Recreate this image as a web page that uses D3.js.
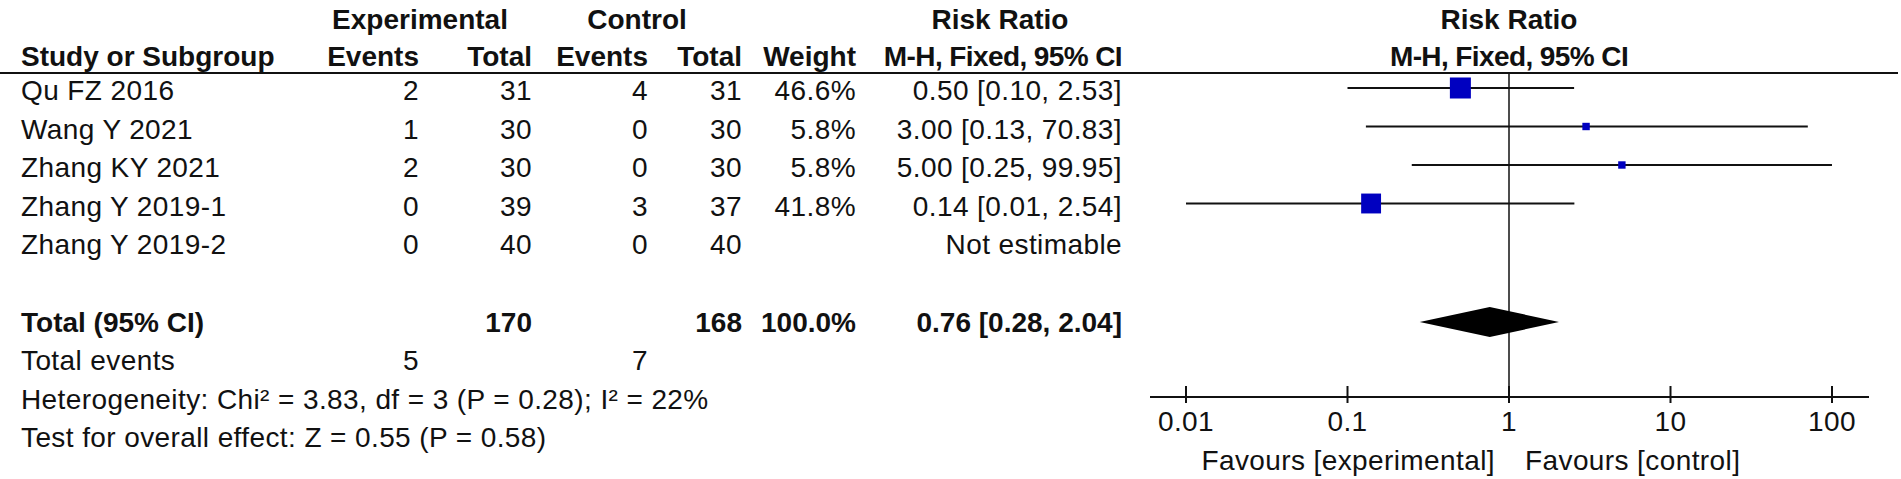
<!DOCTYPE html>
<html>
<head>
<meta charset="utf-8">
<script src="https://cdn.jsdelivr.net/npm/d3@7.9.0/dist/d3.min.js"></script>
<style>
  body { margin: 0; background: #fff; }
  text { font-family: 'Liberation Sans', Arial, sans-serif; fill: #111; }
</style>
</head>
<body>
<svg id="forest"></svg>
<script>
// study data
const studies = ['Qu FZ 2016', 'Wang Y 2021', 'Zhang KY 2021', 'Zhang Y 2019-1', 'Zhang Y 2019-2'];
const expEvents = [2, 1, 2, 0, 0];
const expTotal = [31, 30, 30, 39, 40];
const ctrlEvents = [4, 0, 0, 3, 0];
const ctrlTotal = [31, 30, 30, 37, 40];
const weights = [46.6, 5.8, 5.8, 41.8, null];
const rr = [0.5, 3.0, 5.0, 0.14, null];
const ciLow = [0.1, 0.13, 0.25, 0.01, null];
const ciHigh = [2.53, 70.83, 99.95, 2.54, null];
const rrLabels = ['0.50 [0.10, 2.53]', '3.00 [0.13, 70.83]', '5.00 [0.25, 99.95]', '0.14 [0.01, 2.54]', 'Not estimable'];

// pooled result
const pooled = { rr: 0.76, low: 0.28, high: 2.04, label: '0.76 [0.28, 2.04]' };
const totals = { exp: 170, ctrl: 168, weight: '100.0%', expEvents: 5, ctrlEvents: 7 };
const heterogeneity = 'Heterogeneity: Chi² = 3.83, df = 3 (P = 0.28); I² = 22%';
const overallTest = 'Test for overall effect: Z = 0.55 (P = 0.58)';

const axisTicks = [0.01, 0.1, 1, 10, 100];
const favourLeft = 'Favours [experimental]';
const favourRight = 'Favours [control]';

const width = 1901;
const height = 479;
const fs = 28;

// right edges of the table columns
const col = { name: 21, expEv: 419, expTot: 532, ctrlEv: 648, ctrlTot: 742, weight: 856, rr: 1122 };

const svg = d3.select('#forest').attr('width', width).attr('height', height);

// rows: 0..4 are the studies, the rest are summary lines
const yRow = d3.scaleLinear().domain([0, 1]).range([88, 126.5]);
const textDrop = 2; // study text sits a touch below its CI line
const yTotal = 322, yEvents = 360, yHet = 399, yTest = 437;

const x = d3.scaleLog().domain([0.01, 100]).range([1186, 1832]);
const axisY = 397;

// square side grows with the square root of the weight
const boxSize = d3.scaleSqrt().domain([0, 46.6]).range([0, 21]);

function label(str, xPos, yPos, anchor, bold, spacing) {
  svg.append('text')
    .attr('x', xPos)
    .attr('y', yPos)
    .attr('dy', '0.36em')
    .attr('text-anchor', anchor)
    .style('font-size', fs + 'px')
    .style('font-weight', bold ? 'bold' : 'normal')
    .style('letter-spacing', (spacing != null ? spacing : bold ? 0 : 0.4) + 'px')
    .text(str);
}

// column headers
label('Experimental', 420, 19, 'middle', true);
label('Control', 637, 19, 'middle', true);
label('Risk Ratio', 1000, 19, 'middle', true);
label('Risk Ratio', x(1), 19, 'middle', true);
label('Study or Subgroup', col.name, 56, 'start', true);
label('Events', col.expEv, 56, 'end', true);
label('Total', col.expTot, 56, 'end', true);
label('Events', col.ctrlEv, 56, 'end', true);
label('Total', col.ctrlTot, 56, 'end', true);
label('Weight', col.weight, 56, 'end', true);
label('M-H, Fixed, 95% CI', col.rr, 56, 'end', true, -0.6);
label('M-H, Fixed, 95% CI', x(1), 56, 'middle', true, -0.6);

svg.append('line')
  .attr('x1', 0).attr('x2', 1898)
  .attr('y1', 73).attr('y2', 73)
  .style('stroke', '#111').style('stroke-width', 2);

// study rows
studies.forEach((s, i) => {
  const y = yRow(i) + textDrop;
  label(s, col.name, y, 'start', false);
  label(expEvents[i], col.expEv, y, 'end', false);
  label(expTotal[i], col.expTot, y, 'end', false);
  label(ctrlEvents[i], col.ctrlEv, y, 'end', false);
  label(ctrlTotal[i], col.ctrlTot, y, 'end', false);
  if (weights[i] != null) label(weights[i].toFixed(1) + '%', col.weight, y, 'end', false);
  label(rrLabels[i], col.rr, y, 'end', false);
});

// summary rows
label('Total (95% CI)', col.name, yTotal, 'start', true);
label(totals.exp, col.expTot, yTotal, 'end', true);
label(totals.ctrl, col.ctrlTot, yTotal, 'end', true);
label(totals.weight, col.weight, yTotal, 'end', true);
label(pooled.label, col.rr, yTotal, 'end', true);
label('Total events', col.name, yEvents, 'start', false);
label(totals.expEvents, col.expEv, yEvents, 'end', false);
label(totals.ctrlEvents, col.ctrlEv, yEvents, 'end', false);
label(heterogeneity, col.name, yHet, 'start', false);
label(overallTest, col.name, yTest, 'start', false);

// line of no effect
svg.append('line')
  .attr('x1', x(1)).attr('x2', x(1))
  .attr('y1', 73).attr('y2', axisY)
  .style('stroke', '#111').style('stroke-width', 1.5);

// confidence intervals and squares
const plotted = d3.range(studies.length).filter((i) => rr[i] != null);

svg.selectAll('line.ci')
  .data(plotted)
  .join('line')
  .attr('class', 'ci')
  .attr('x1', (i) => x(ciLow[i]))
  .attr('x2', (i) => x(ciHigh[i]))
  .attr('y1', (i) => yRow(i))
  .attr('y2', (i) => yRow(i))
  .style('stroke', '#111')
  .style('stroke-width', 2);

svg.selectAll('rect.box')
  .data(plotted)
  .join('rect')
  .attr('class', 'box')
  .attr('x', (i) => x(rr[i]) - boxSize(weights[i]) / 2)
  .attr('y', (i) => yRow(i) - boxSize(weights[i]) / 2)
  .attr('width', (i) => boxSize(weights[i]))
  .attr('height', (i) => boxSize(weights[i]))
  .style('fill', '#0000c0');

// pooled diamond
svg.append('path')
  .attr('d', d3.line()([
    [x(pooled.low), yTotal],
    [x(pooled.rr), yTotal - 15],
    [x(pooled.high), yTotal],
    [x(pooled.rr), yTotal + 15],
  ]) + 'Z')
  .style('fill', '#000');

// axis
const axis = svg.append('g').attr('transform', `translate(0, ${axisY})`);
axis.append('line')
  .attr('x1', 1150).attr('x2', 1869)
  .style('stroke', '#111').style('stroke-width', 2);
axis.selectAll('line.tick')
  .data(axisTicks)
  .join('line')
  .attr('class', 'tick')
  .attr('x1', (d) => x(d)).attr('x2', (d) => x(d))
  .attr('y1', -11).attr('y2', 6)
  .style('stroke', '#111').style('stroke-width', 2);
axisTicks.forEach((t) => label(String(t), x(t), 421, 'middle', false));

label(favourLeft, x(1) - 14, 460, 'end', false);
label(favourRight, x(1) + 16, 460, 'start', false);
</script>
</body>
</html>
